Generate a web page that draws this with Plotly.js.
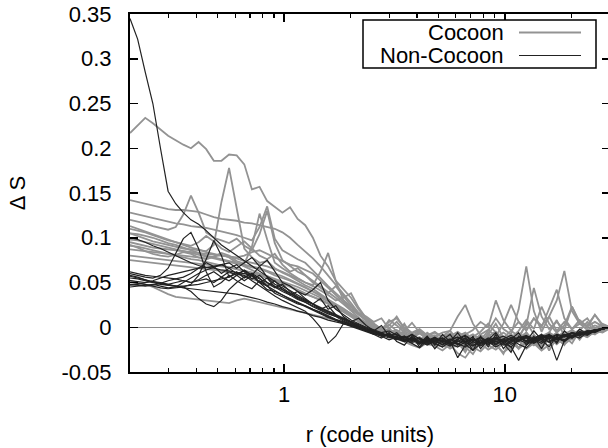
<!DOCTYPE html>
<html>
<head>
<meta charset="utf-8">
<script src="https://cdn.plot.ly/plotly-3.0.1.min.js"></script>
<style>
html, body { margin: 0; padding: 0; overflow: hidden; background: #fff; }
#chart { width: 610px; height: 448px; }
</style>
</head>
<body>
<div id="chart"></div>
<script>
// radius grid (code units), shared by all curves
const r = [0.2, 0.2166, 0.2345, 0.2539, 0.2749, 0.2977, 0.3223, 0.349,
  0.3779, 0.4092, 0.4431, 0.4798, 0.5195, 0.5625, 0.6091, 0.6595,
  0.7141, 0.7733, 0.8373, 0.9066, 0.9817, 1.063, 1.151, 1.246,
  1.349, 1.461, 1.582, 1.713, 1.855, 2.009, 2.175, 2.355,
  2.55, 2.761, 2.99, 3.237, 3.505, 3.796, 4.11, 4.45,
  4.819, 5.218, 5.65, 6.118, 6.625, 7.173, 7.767, 8.411,
  9.107, 9.861, 10.68, 11.56, 12.52, 13.55, 14.68, 15.89,
  17.21, 18.63, 20.18, 21.85, 23.66, 25.62, 27.74, 30.0];

// Cocoon runs (grey)
const cocoon1 = [0.217,0.226,0.234,0.228,0.221,0.214,0.209,0.204, 0.200,0.207,0.199,0.186,0.186,0.193,0.192,0.182, 0.154,0.157,0.141,0.134,0.128,0.134,0.121,0.114, 0.100,0.080,0.068,0.052,0.043,0.033,0.020,0.010, 0.004,-0.003,-0.006,-0.004,-0.010,-0.014,-0.012,-0.018, -0.016,-0.021,-0.014,-0.019,-0.012,-0.017,-0.015,-0.010, -0.016,-0.012,-0.019,-0.008,-0.014,-0.010,-0.015,-0.006, -0.011,-0.005,-0.008,-0.003,-0.006,-0.002,-0.003,0.000];
const cocoon2 = [0.105,0.102,0.099,0.096,0.094,0.092,0.090,0.088, 0.087,0.086,0.085,0.092,0.140,0.178,0.134,0.088, 0.078,0.072,0.074,0.066,0.061,0.057,0.052,0.047, 0.043,0.037,0.031,0.024,0.018,0.012,0.006,0.002, -0.002,-0.005,-0.008,-0.006,-0.012,-0.010,-0.016,-0.013, -0.019,-0.015,-0.022,-0.017,-0.013,-0.020,-0.016,-0.011, -0.018,-0.014,-0.009,-0.016,-0.012,-0.020,-0.011,-0.014, -0.008,-0.012,-0.006,-0.009,-0.004,-0.006,-0.002,0.000];
const cocoon3 = [0.120,0.118,0.116,0.113,0.111,0.109,0.112,0.126, 0.147,0.128,0.106,0.100,0.097,0.094,0.099,0.091, 0.086,0.104,0.130,0.094,0.075,0.068,0.062,0.058, 0.052,0.046,0.040,0.033,0.026,0.018,0.011,0.004, 0.000,-0.004,-0.002,0.006,-0.004,-0.009,-0.006,-0.013, -0.010,-0.017,-0.012,-0.008,-0.018,-0.024,-0.015,-0.010, -0.005,-0.014,-0.020,-0.012,-0.006,-0.015,-0.022,-0.013, -0.018,-0.010,-0.014,-0.007,-0.011,-0.004,-0.006,-0.001];
const cocoon4 = [0.142,0.140,0.138,0.136,0.134,0.132,0.131,0.131, 0.130,0.129,0.126,0.123,0.121,0.120,0.119,0.117, 0.116,0.114,0.112,0.110,0.106,0.100,0.092,0.085, 0.077,0.068,0.058,0.047,0.037,0.027,0.016,0.008, 0.002,-0.004,-0.008,-0.012,-0.009,-0.015,-0.019,-0.014, -0.021,-0.017,-0.024,-0.019,-0.015,-0.022,-0.027,-0.018, -0.013,-0.019,-0.016,-0.024,-0.017,-0.012,-0.019,-0.015, -0.010,-0.016,-0.011,-0.007,-0.010,-0.005,-0.003,0.000];
const cocoon5 = [0.128,0.126,0.124,0.122,0.120,0.118,0.116,0.115, 0.113,0.112,0.111,0.109,0.107,0.105,0.103,0.100, 0.097,0.112,0.135,0.099,0.086,0.081,0.076,0.072, 0.064,0.055,0.046,0.038,0.030,0.022,0.014,0.007, 0.002,-0.003,0.003,-0.004,-0.008,-0.012,-0.007,-0.013, -0.010,-0.006,-0.004,0.012,0.025,0.004,-0.009,-0.014, -0.010,-0.017,-0.012,-0.007,-0.015,-0.020,-0.010,-0.006, -0.012,-0.008,-0.003,-0.009,-0.005,-0.002,-0.004,0.000];
const cocoon6 = [0.113,0.110,0.107,0.104,0.101,0.098,0.095,0.092, 0.089,0.087,0.084,0.082,0.080,0.079,0.077,0.074, 0.072,0.070,0.068,0.065,0.062,0.058,0.054,0.050, 0.047,0.062,0.083,0.052,0.030,0.020,0.015,0.008, 0.003,-0.002,-0.006,-0.003,-0.009,-0.014,-0.011,-0.017, -0.022,-0.016,-0.012,-0.019,-0.025,-0.017,-0.013,-0.020, -0.025,-0.018,-0.012,-0.023,-0.016,-0.009,-0.017,-0.012, -0.019,-0.011,-0.007,-0.012,-0.006,-0.008,-0.003,0.000];
const cocoon7 = [0.105,0.104,0.102,0.100,0.097,0.094,0.092,0.089, 0.086,0.083,0.080,0.078,0.076,0.074,0.072,0.070, 0.068,0.066,0.063,0.060,0.057,0.053,0.049,0.045, 0.040,0.035,0.030,0.024,0.018,0.012,0.007,0.003, -0.001,-0.004,-0.007,-0.010,-0.006,-0.012,-0.016,-0.011, -0.015,-0.010,-0.016,-0.021,-0.012,-0.008,-0.014,-0.004, 0.010,-0.002,-0.008,0.020,0.068,0.018,-0.005,0.012, -0.004,0.006,-0.002,0.004,-0.003,0.002,-0.001,0.000];
const cocoon8 = [0.098,0.097,0.095,0.093,0.091,0.089,0.087,0.085, 0.083,0.081,0.079,0.077,0.075,0.073,0.071,0.069, 0.067,0.065,0.062,0.058,0.055,0.052,0.048,0.044, 0.040,0.036,0.031,0.026,0.021,0.015,0.009,0.004, 0.000,-0.004,-0.002,-0.008,-0.012,-0.008,-0.014,-0.018, -0.012,-0.017,-0.013,-0.009,-0.016,-0.011,-0.005,0.004, -0.006,-0.012,-0.004,0.006,-0.003,0.010,0.002,0.012, 0.030,0.063,0.018,0.004,0.010,-0.002,0.004,0.000];
const cocoon9 = [0.091,0.090,0.088,0.086,0.084,0.082,0.080,0.078, 0.076,0.075,0.073,0.071,0.069,0.067,0.065,0.063, 0.061,0.059,0.057,0.054,0.051,0.048,0.045,0.041, 0.037,0.033,0.029,0.024,0.020,0.015,0.010,0.005, 0.001,-0.003,0.002,0.012,-0.002,-0.007,-0.004,-0.010, -0.006,-0.011,-0.007,-0.012,-0.008,-0.003,0.006,0.000, 0.030,0.008,-0.004,-0.010,0.002,0.044,0.012,-0.002, 0.006,-0.003,0.023,0.004,0.002,0.014,0.002,0.000];
const cocoon10 = [0.087,0.086,0.085,0.084,0.083,0.082,0.081,0.080, 0.079,0.078,0.077,0.079,0.081,0.078,0.072,0.068, 0.064,0.060,0.057,0.053,0.050,0.046,0.042,0.038, 0.034,0.030,0.026,0.021,0.017,0.012,0.008,0.004, 0.000,-0.003,-0.006,-0.009,-0.004,0.005,-0.006,-0.011, -0.009,-0.014,-0.010,-0.005,-0.011,-0.016,-0.008,-0.003, -0.010,0.004,0.025,0.006,-0.004,0.010,0.000,0.022, 0.042,0.010,-0.002,0.008,0.001,0.006,0.001,0.000];
const cocoon11 = [0.080,0.079,0.078,0.077,0.076,0.075,0.074,0.073, 0.072,0.071,0.070,0.069,0.068,0.067,0.065,0.063, 0.061,0.058,0.055,0.052,0.049,0.045,0.041,0.037, 0.034,0.031,0.027,0.023,0.019,0.014,0.009,0.005, 0.001,-0.002,-0.005,-0.008,-0.006,-0.011,-0.015,-0.010, -0.014,-0.018,-0.012,-0.016,-0.020,-0.014,-0.010,-0.016, -0.011,-0.006,-0.012,-0.004,0.008,-0.002,0.023,0.004, -0.006,0.002,0.023,0.006,0.000,0.014,0.003,0.000];
const cocoon12 = [0.075,0.074,0.073,0.072,0.071,0.070,0.069,0.068, 0.067,0.066,0.065,0.064,0.063,0.061,0.059,0.057, 0.054,0.051,0.048,0.045,0.042,0.038,0.034,0.030, 0.026,0.022,0.018,0.014,0.010,0.006,0.003,0.000, -0.003,-0.006,-0.009,-0.012,-0.014,-0.016,-0.018,-0.019, -0.020,-0.021,-0.022,-0.021,-0.020,-0.020,-0.019,-0.018, -0.017,-0.016,-0.015,-0.014,-0.013,-0.012,-0.011,-0.010, -0.009,-0.008,-0.007,-0.006,-0.004,-0.003,-0.002,0.000];
const cocoon13 = [0.092,0.089,0.085,0.082,0.080,0.079,0.081,0.084, 0.082,0.078,0.076,0.079,0.083,0.080,0.074,0.071, 0.090,0.127,0.098,0.072,0.066,0.060,0.055,0.050, 0.046,0.041,0.036,0.030,0.033,0.038,0.022,0.010, 0.004,-0.002,0.006,0.010,0.000,-0.006,-0.002,-0.009, -0.005,-0.012,-0.018,-0.010,-0.006,-0.014,-0.009,-0.016, -0.021,-0.013,-0.008,-0.015,-0.006,-0.016,-0.024,-0.012, -0.006,-0.015,-0.008,-0.004,-0.009,-0.003,-0.005,0.000];
const cocoon14 = [0.052,0.050,0.048,0.045,0.041,0.037,0.034,0.033, 0.032,0.031,0.030,0.029,0.028,0.027,0.030,0.032, 0.030,0.028,0.026,0.024,0.022,0.020,0.018,0.016, 0.014,0.012,0.010,0.008,0.006,0.004,0.002,0.000, -0.003,-0.006,-0.010,-0.013,-0.016,-0.020,-0.023,-0.017, -0.021,-0.026,-0.019,-0.029,-0.034,-0.022,-0.018,-0.025, -0.020,-0.028,-0.021,-0.015,-0.024,-0.018,-0.026,-0.020, -0.013,-0.019,-0.012,-0.008,-0.011,-0.005,-0.003,0.000];
const cocoon15 = [0.110,0.108,0.106,0.103,0.100,0.097,0.095,0.093, 0.091,0.095,0.102,0.096,0.088,0.084,0.090,0.096, 0.088,0.080,0.076,0.082,0.070,0.062,0.066,0.058, 0.050,0.044,0.038,0.046,0.035,0.024,0.016,0.012, 0.006,0.010,-0.002,-0.008,0.004,-0.010,-0.016,-0.006, -0.012,-0.022,-0.008,-0.016,-0.028,-0.012,-0.020,-0.006, -0.018,-0.030,-0.012,-0.024,-0.006,-0.018,-0.008,-0.026, -0.012,-0.020,-0.004,-0.014,-0.002,-0.008,0.002,0.000];
const cocoon16 = [0.095,0.093,0.091,0.089,0.088,0.087,0.086,0.085, 0.084,0.083,0.082,0.081,0.080,0.079,0.078,0.080, 0.084,0.086,0.082,0.078,0.074,0.070,0.068,0.064, 0.060,0.052,0.044,0.036,0.028,0.020,0.014,0.008, 0.002,-0.004,0.008,0.002,-0.006,-0.012,-0.004,-0.014, -0.020,-0.010,-0.004,-0.014,-0.022,-0.030,-0.016,-0.008, 0.004,-0.012,-0.026,-0.014,0.006,-0.008,-0.020,-0.006, 0.008,-0.010,-0.018,-0.004,0.006,-0.006,0.001,0.000];

// Non-Cocoon runs (dark)
const noncocoon1 = [0.345,0.322,0.285,0.250,0.200,0.152,0.138,0.128, 0.120,0.115,0.108,0.100,0.092,0.086,0.080,0.074, 0.068,0.062,0.056,0.051,0.046,0.041,0.036,0.031, 0.026,0.021,0.017,0.013,0.009,0.005,0.001,-0.002, -0.005,-0.008,-0.010,-0.013,-0.011,-0.015,-0.012,-0.016, -0.013,-0.017,-0.014,-0.011,-0.016,-0.013,-0.018,-0.014, -0.012,-0.016,-0.011,-0.014,-0.010,-0.013,-0.009,-0.012, -0.008,-0.010,-0.006,-0.008,-0.004,-0.005,-0.002,0.000];
const noncocoon2 = [0.060,0.058,0.056,0.055,0.058,0.066,0.082,0.099, 0.106,0.088,0.062,0.045,0.050,0.058,0.052,0.047, 0.043,0.052,0.046,0.038,0.034,0.030,0.026,0.024, 0.020,0.016,0.012,0.008,0.005,0.002,-0.001,-0.004, -0.007,-0.010,-0.008,-0.013,-0.016,-0.012,-0.018,-0.015, -0.011,-0.017,-0.021,-0.015,-0.019,-0.026,-0.018,-0.014, -0.019,-0.015,-0.022,-0.037,-0.020,-0.014,-0.018,-0.012, -0.016,-0.009,-0.012,-0.006,-0.008,-0.004,-0.002,0.000];
const noncocoon3 = [0.057,0.055,0.053,0.051,0.049,0.047,0.046,0.045, 0.048,0.058,0.076,0.097,0.080,0.056,0.062,0.055, 0.060,0.050,0.042,0.040,0.036,0.032,0.028,0.024, 0.020,0.017,0.013,0.009,0.006,0.003,0.000,-0.003, -0.006,-0.009,-0.012,-0.010,-0.014,-0.018,-0.023,-0.015, -0.012,-0.016,-0.013,-0.018,-0.022,-0.016,-0.012,-0.017, -0.013,-0.010,-0.015,-0.011,-0.016,-0.012,-0.008,-0.013, -0.037,-0.015,-0.009,-0.012,-0.006,-0.004,-0.002,0.000];
const noncocoon4 = [0.050,0.049,0.048,0.046,0.044,0.043,0.044,0.045, 0.040,0.032,0.026,0.023,0.030,0.042,0.050,0.056, 0.060,0.055,0.046,0.041,0.036,0.031,0.027,0.023, 0.019,0.015,0.011,0.008,0.004,0.001,-0.002,-0.005, -0.008,-0.006,-0.011,-0.014,-0.010,-0.016,-0.012,-0.018, -0.014,-0.020,-0.015,-0.034,-0.020,-0.013,-0.017,-0.012, -0.016,-0.013,-0.017,-0.012,-0.009,-0.014,-0.010,-0.013, -0.009,-0.011,-0.007,-0.009,-0.005,-0.003,-0.002,0.000];
const noncocoon5 = [0.047,0.048,0.050,0.051,0.050,0.048,0.046,0.044, 0.043,0.042,0.041,0.040,0.039,0.038,0.037,0.035, 0.033,0.031,0.028,0.026,0.023,0.021,0.018,0.016, 0.013,0.011,0.008,0.006,0.004,0.002,0.000,-0.003, -0.005,-0.008,-0.010,-0.012,-0.015,-0.011,-0.016,-0.020, -0.016,-0.012,-0.018,-0.014,-0.010,-0.016,-0.021,-0.015, -0.011,-0.018,-0.022,-0.014,-0.010,-0.016,-0.011,-0.008, -0.013,-0.008,-0.010,-0.005,-0.007,-0.003,-0.002,0.000];
const noncocoon6 = [0.045,0.046,0.047,0.048,0.046,0.044,0.045,0.050, 0.055,0.060,0.064,0.067,0.070,0.072,0.066,0.072, 0.078,0.068,0.056,0.048,0.044,0.038,0.032,0.028, 0.024,0.020,0.016,0.012,0.010,0.006,0.002,-0.002, -0.004,-0.007,-0.010,-0.008,-0.013,-0.017,-0.014,-0.019, -0.015,-0.012,-0.018,-0.022,-0.016,-0.013,-0.019,-0.016, -0.022,-0.017,-0.013,-0.019,-0.023,-0.015,-0.011,-0.017, -0.012,-0.016,-0.010,-0.007,-0.009,-0.004,-0.002,0.000];
const noncocoon7 = [0.100,0.098,0.095,0.091,0.088,0.084,0.080,0.076, 0.072,0.069,0.067,0.066,0.064,0.063,0.061,0.060, 0.058,0.054,0.050,0.046,0.042,0.038,0.033,0.029, 0.026,0.022,0.018,0.014,0.010,0.006,0.003,-0.001, -0.004,-0.007,-0.009,-0.012,-0.010,-0.014,-0.017,-0.012, -0.016,-0.019,-0.014,-0.011,-0.017,-0.021,-0.015,-0.019, -0.015,-0.020,-0.016,-0.011,-0.015,-0.018,-0.013,-0.009, -0.014,-0.010,-0.012,-0.008,-0.005,-0.003,-0.002,0.000];
const noncocoon8 = [0.058,0.056,0.053,0.050,0.048,0.047,0.046,0.046, 0.047,0.048,0.050,0.052,0.054,0.056,0.060,0.058, 0.052,0.046,0.040,0.035,0.030,0.026,0.022,0.018, 0.010,0.000,-0.018,-0.010,0.004,0.002,-0.001,-0.004, -0.007,-0.010,-0.014,-0.011,-0.016,-0.013,-0.019,-0.014, -0.018,-0.022,-0.016,-0.019,-0.014,-0.020,-0.017,-0.013, -0.018,-0.014,-0.019,-0.015,-0.012,-0.017,-0.013,-0.016, -0.011,-0.014,-0.009,-0.007,-0.006,-0.003,-0.002,0.000];
const noncocoon9 = [0.055,0.054,0.052,0.050,0.049,0.048,0.050,0.052, 0.050,0.052,0.054,0.050,0.056,0.062,0.058,0.052, 0.058,0.068,0.075,0.062,0.050,0.046,0.040,0.036, 0.042,0.050,0.030,0.020,0.014,0.008,0.004,0.000, -0.003,-0.006,-0.004,-0.009,-0.012,-0.008,-0.013,-0.017, -0.012,-0.015,-0.019,-0.013,-0.009,-0.015,-0.011,-0.016, -0.020,-0.013,-0.009,-0.014,-0.018,-0.012,-0.016,-0.010, -0.014,-0.008,-0.011,-0.005,-0.007,-0.003,-0.002,0.000];
const noncocoon10 = [0.052,0.051,0.050,0.052,0.055,0.058,0.060,0.062, 0.064,0.066,0.067,0.068,0.070,0.066,0.060,0.063, 0.057,0.050,0.055,0.045,0.040,0.036,0.031,0.028, 0.023,0.019,0.015,0.012,0.007,0.003,0.000,-0.003, -0.006,-0.009,-0.007,-0.012,-0.015,-0.012,-0.017,-0.013, -0.017,-0.014,-0.020,-0.016,-0.012,-0.018,-0.014,-0.019, -0.013,-0.017,-0.012,-0.016,-0.011,-0.015,-0.012,-0.009, -0.013,-0.009,-0.006,-0.008,-0.004,-0.005,-0.002,0.000];
const noncocoon11 = [0.062,0.060,0.058,0.057,0.056,0.055,0.054,0.056, 0.060,0.066,0.072,0.068,0.060,0.066,0.070,0.062, 0.054,0.058,0.050,0.044,0.048,0.040,0.034,0.030, 0.026,0.020,0.024,0.014,0.008,0.004,0.001,-0.004, -0.008,-0.012,-0.006,-0.016,-0.020,-0.010,-0.022,-0.012, -0.024,-0.014,-0.008,-0.020,-0.012,-0.026,-0.010,-0.022, -0.008,-0.024,-0.014,-0.006,-0.020,-0.010,-0.024,-0.008, -0.018,-0.004,-0.012,-0.002,-0.008,-0.003,-0.001,0.000];
const noncocoon12 = [0.048,0.047,0.046,0.047,0.049,0.052,0.054,0.052, 0.050,0.053,0.058,0.062,0.056,0.052,0.058,0.064, 0.058,0.050,0.046,0.052,0.042,0.036,0.040,0.032, 0.026,0.032,0.020,0.024,0.012,0.006,0.010,0.002, -0.004,0.002,-0.010,-0.006,-0.014,-0.008,-0.018,-0.010, -0.020,-0.008,-0.016,-0.006,-0.018,-0.010,-0.024,-0.014, -0.006,-0.018,-0.028,-0.010,-0.016,-0.004,-0.014,-0.022, -0.010,-0.016,-0.006,-0.010,-0.004,-0.006,-0.002,0.000];

const cocoonRuns = [cocoon1, cocoon2, cocoon3, cocoon4, cocoon5, cocoon6, cocoon7, cocoon8,
  cocoon9, cocoon10, cocoon11, cocoon12, cocoon13, cocoon14, cocoon15, cocoon16];
const nonCocoonRuns = [noncocoon1, noncocoon2, noncocoon3, noncocoon4, noncocoon5, noncocoon6,
  noncocoon7, noncocoon8, noncocoon9, noncocoon10, noncocoon11, noncocoon12];

const seriesNames = ['Cocoon', 'Non-Cocoon'];
const yTickVals = [-0.05, 0, 0.05, 0.1, 0.15, 0.2, 0.25, 0.3, 0.35];
const yTickText = ['-0.05', '0', '0.05', '0.1', '0.15', '0.2', '0.25', '0.3', '0.35'];
const xTickVals = [1, 10];
const xTickText = ['1', '10'];
const xMinorVals = [0.2, 0.3, 0.4, 0.5, 0.6, 0.7, 0.8, 0.9, 2, 3, 4, 5, 6, 7, 8, 9, 20, 30];

const greyColor = '#939393';
const darkColor = '#222222';

const traces = [];
cocoonRuns.forEach(function (ys) {
  traces.push({x: r, y: ys, type: 'scatter', mode: 'lines', name: seriesNames[0],
    line: {color: greyColor, width: 1.8}, showlegend: false, hoverinfo: 'skip'});
});
nonCocoonRuns.forEach(function (ys) {
  traces.push({x: r, y: ys, type: 'scatter', mode: 'lines', name: seriesNames[1],
    line: {color: darkColor, width: 1.2}, showlegend: false, hoverinfo: 'skip'});
});

// plot area in pixels: left 130, right 610, top 14, bottom 372
const L = 130, W = 480, T = 14, H = 358;
function px2x(p) { return (p - L) / W; }
function px2y(p) { return (T + H - p) / H; }

const fontFam = 'Liberation Sans, Arial, Helvetica, sans-serif';
const fs = 22;

const layout = {
  width: 610, height: 448,
  margin: {l: L, r: 0, t: T, b: 448 - T - H, pad: 0},
  paper_bgcolor: '#ffffff', plot_bgcolor: '#ffffff',
  font: {family: fontFam, size: fs, color: '#000'},
  showlegend: false,
  xaxis: {
    type: 'log', range: [Math.log10(0.2), Math.log10(30)],
    tickmode: 'array', tickvals: xTickVals, ticktext: xTickText,
    ticks: 'inside', ticklen: 8, tickwidth: 1.5, tickcolor: '#000',
    minor: {tickmode: 'array', tickvals: xMinorVals, ticks: 'inside', ticklen: 4, tickwidth: 1.2, tickcolor: '#000', showgrid: false},
    showline: true, linewidth: 2, linecolor: '#000', mirror: 'allticks',
    showgrid: false, zeroline: false,
    ticklabelstandoff: 2,
    tickfont: {family: fontFam, size: fs, color: '#000'},
    title: {text: 'r (code units)', font: {family: fontFam, size: fs, color: '#000'}, standoff: 20}
  },
  yaxis: {
    range: [-0.05, 0.35],
    tickmode: 'array', tickvals: yTickVals, ticktext: yTickText,
    ticks: 'inside', ticklen: 8, tickwidth: 1.5, tickcolor: '#000',
    showline: true, linewidth: 2, linecolor: '#000', mirror: 'allticks',
    showgrid: false,
    zeroline: true, zerolinecolor: '#8a8a8a', zerolinewidth: 1,
    ticklabelstandoff: 12,
    tickfont: {family: fontFam, size: fs, color: '#000'},
    title: {text: '\u0394 S', font: {family: fontFam, size: fs, color: '#000'}, standoff: 30}
  },
  shapes: [
    {type: 'rect', xref: 'paper', yref: 'paper', x0: px2x(363), x1: px2x(596), y0: px2y(68), y1: px2y(20),
      line: {color: '#000', width: 1.5}, fillcolor: '#ffffff', layer: 'above'},
    {type: 'line', xref: 'paper', yref: 'paper', x0: px2x(519), x1: px2x(581), y0: px2y(32.5), y1: px2y(32.5),
      line: {color: greyColor, width: 1.8}, layer: 'above'},
    {type: 'line', xref: 'paper', yref: 'paper', x0: px2x(519), x1: px2x(581), y0: px2y(55.5), y1: px2y(55.5),
      line: {color: darkColor, width: 1.2}, layer: 'above'}
  ],
  annotations: [
    {xref: 'paper', yref: 'paper', x: px2x(506), y: px2y(32), xanchor: 'right', yanchor: 'middle',
      text: seriesNames[0], showarrow: false, font: {family: fontFam, size: fs, color: '#000'}},
    {xref: 'paper', yref: 'paper', x: px2x(506), y: px2y(55), xanchor: 'right', yanchor: 'middle',
      text: seriesNames[1], showarrow: false, font: {family: fontFam, size: fs, color: '#000'}}
  ]
};

Plotly.newPlot('chart', traces, layout, {staticPlot: true, displayModeBar: false});
</script>
</body>
</html>
